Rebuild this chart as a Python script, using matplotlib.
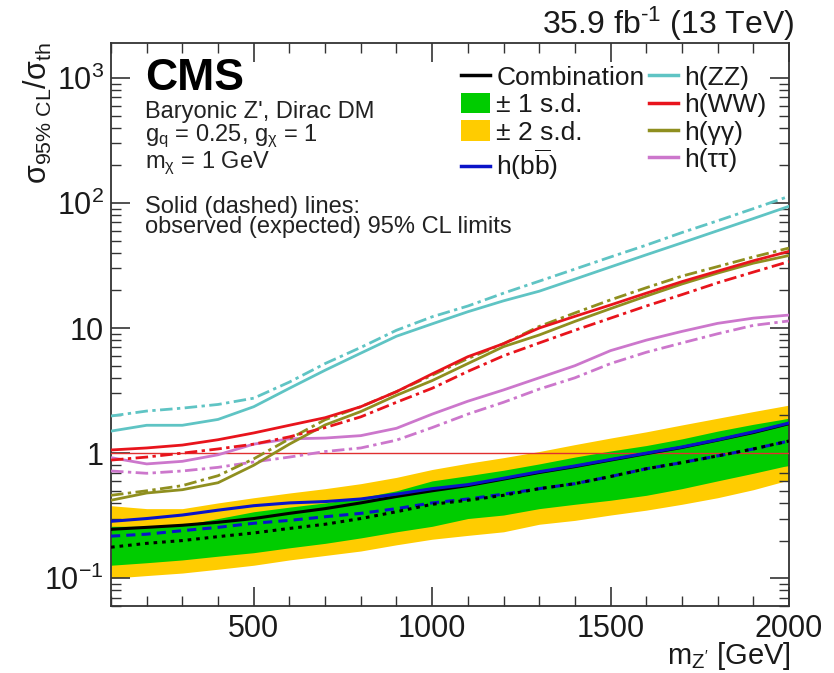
import matplotlib
matplotlib.use("Agg")
import matplotlib.pyplot as plt
from matplotlib.lines import Line2D
from matplotlib.patches import Patch
from matplotlib.ticker import FixedLocator, FixedFormatter, MultipleLocator, NullFormatter, LogLocator

plt.rcParams['font.family'] = ['Liberation Sans', 'DejaVu Sans']
plt.rcParams['mathtext.fontset'] = 'custom'
plt.rcParams['mathtext.rm'] = 'Liberation Sans'
plt.rcParams['mathtext.it'] = 'Liberation Sans'
plt.rcParams['mathtext.bf'] = 'Liberation Sans:bold'

# ---------------- data ----------------
mass = [100, 200, 300, 400, 500, 600, 700, 800, 900, 1000,
        1100, 1200, 1300, 1400, 1500, 1600, 1700, 1800, 1900, 2000]

band2_lo = [0.10, 0.105, 0.11, 0.118, 0.127, 0.14, 0.152, 0.165, 0.185, 0.205,
            0.22, 0.235, 0.27, 0.29, 0.32, 0.35, 0.39, 0.44, 0.51, 0.61]
band1_lo = [0.127, 0.133, 0.14, 0.15, 0.16, 0.175, 0.19, 0.21, 0.235, 0.26,
            0.30, 0.32, 0.36, 0.39, 0.42, 0.46, 0.52, 0.60, 0.69, 0.80]
band1_hi = [0.26, 0.26, 0.265, 0.30, 0.34, 0.37, 0.40, 0.44, 0.50, 0.60,
            0.66, 0.73, 0.82, 0.93, 1.04, 1.15, 1.30, 1.50, 1.70, 1.90]
band2_hi = [0.38, 0.36, 0.36, 0.40, 0.44, 0.48, 0.52, 0.57, 0.64, 0.74,
            0.83, 0.92, 1.03, 1.17, 1.32, 1.48, 1.68, 1.90, 2.15, 2.42]

comb_exp = [0.177, 0.19, 0.20, 0.215, 0.23, 0.25, 0.27, 0.30, 0.34, 0.39,
            0.42, 0.46, 0.52, 0.57, 0.65, 0.75, 0.84, 0.95, 1.08, 1.25]
comb_obs = [0.246, 0.255, 0.265, 0.28, 0.30, 0.33, 0.36, 0.40, 0.45, 0.50,
            0.55, 0.62, 0.70, 0.78, 0.88, 0.99, 1.11, 1.27, 1.46, 1.72]

bb_exp = [0.217, 0.225, 0.24, 0.255, 0.275, 0.29, 0.31, 0.33, 0.36, 0.40,
          0.43, 0.47, 0.52, 0.57, 0.65, 0.75, 0.84, 0.95, 1.08, 1.25]
bb_obs = [0.285, 0.30, 0.32, 0.35, 0.38, 0.40, 0.41, 0.43, 0.47, 0.52,
          0.56, 0.63, 0.71, 0.79, 0.89, 1.00, 1.12, 1.28, 1.48, 1.74]

zz_obs = [1.5, 1.67, 1.67, 1.86, 2.35, 3.3, 4.6, 6.3, 8.6, 10.8,
          13.5, 16.5, 19.7, 24.6, 30.8, 38.5, 48, 60, 75, 94]
zz_exp = [1.98, 2.17, 2.29, 2.45, 2.75, 3.7, 5.2, 7.0, 9.6, 12.3,
          15, 19, 23.7, 29.6, 37, 46, 58, 72, 90, 113]

ww_obs = [1.06, 1.10, 1.16, 1.28, 1.45, 1.67, 1.92, 2.35, 3.1, 4.3,
          5.9, 7.5, 10.0, 12.4, 15.3, 19.0, 23.5, 28.5, 34.5, 41]
ww_exp = [0.88, 0.93, 1.0, 1.08, 1.18, 1.35, 1.6, 1.95, 2.55, 3.3,
          4.5, 6.0, 7.6, 9.6, 12.0, 15.0, 18.5, 23.0, 28, 34]

gg_obs = [0.42, 0.48, 0.51, 0.58, 0.80, 1.18, 1.68, 2.15, 2.9, 3.8,
          5.2, 7.1, 8.8, 11.3, 14.3, 18, 22.5, 27.5, 33, 38]
gg_exp = [0.46, 0.50, 0.55, 0.66, 0.90, 1.3, 1.85, 2.35, 3.1, 4.2,
          5.7, 7.5, 10.3, 13.2, 16.8, 21, 26, 31, 37, 43.6]

tt_obs = [0.92, 0.82, 0.86, 0.97, 1.18, 1.30, 1.32, 1.38, 1.58, 2.05,
          2.6, 3.2, 4.0, 5.0, 6.6, 8.0, 9.4, 10.9, 12.0, 12.7]
tt_exp = [0.72, 0.69, 0.72, 0.77, 0.85, 0.93, 1.03, 1.1, 1.27, 1.6,
          2.05, 2.55, 3.25, 4.0, 5.2, 6.4, 7.6, 9.0, 10.5, 11.4]

legend_left = ["Combination", "± 1 s.d.", "± 2 s.d.", r"h(b$\overline{\rm b}$)"]
legend_right = ["h(ZZ)", "h(WW)", "h(γγ)", "h(ττ)"]

y_ticks = [0.1, 1, 10, 100, 1000]
y_ticklabels = [r'$10^{-1}$', '1', '10', r'$10^{2}$', r'$10^{3}$']
x_ticks = [500, 1000, 1500, 2000]

# ---------------- style ----------------
C_GREEN = '#00cc00'
C_YELLOW = '#ffcc00'
C_BLUE = '#0a14c8'
C_CYAN = '#5fc4c4'
C_RED = '#e8141c'
C_OLIVE = '#8f8f1f'
C_PURPLE = '#cc77cc'
DASHDOT = (0, (4.5, 1.6, 1.2, 1.6))

fig = plt.figure(figsize=(8.34, 6.73), dpi=100)
ax = fig.add_axes([0.1331, 0.0996, 0.8129, 0.8365])

ax.fill_between(mass, band2_lo, band2_hi, color=C_YELLOW, lw=0, zorder=1)
ax.fill_between(mass, band1_lo, band1_hi, color=C_GREEN, lw=0, zorder=2)
ax.axhline(1.0, color='#e03030', lw=1.0, zorder=3)

lw_o = 2.0
lw_e = 2.0
ax.plot(mass, zz_exp, color=C_CYAN, lw=lw_e, ls=DASHDOT, zorder=4)
ax.plot(mass, zz_obs, color=C_CYAN, lw=lw_o, zorder=4)
ax.plot(mass, tt_exp, color=C_PURPLE, lw=lw_e, ls=DASHDOT, zorder=4)
ax.plot(mass, tt_obs, color=C_PURPLE, lw=lw_o, zorder=4)
ax.plot(mass, gg_exp, color=C_OLIVE, lw=lw_e, ls=DASHDOT, zorder=4)
ax.plot(mass, gg_obs, color=C_OLIVE, lw=lw_o, zorder=4)
ax.plot(mass, ww_exp, color=C_RED, lw=lw_e, ls=DASHDOT, zorder=5)
ax.plot(mass, ww_obs, color=C_RED, lw=lw_o, zorder=5)
ax.plot(mass, bb_exp, color=C_BLUE, lw=2.2, ls=(0, (3.0, 2.0)), zorder=5)
ax.plot(mass, comb_exp, color='black', lw=2.2, ls=(0, (1.2, 1.6)), zorder=6)
ax.plot(mass, comb_obs, color='black', lw=2.2, zorder=6)
ax.plot(mass, bb_obs, color=C_BLUE, lw=2.2, zorder=6)

ax.set_xlim(100, 2000)
ax.set_yscale('log')
ax.set_ylim(0.06, 1900)

ax.xaxis.set_major_locator(FixedLocator(x_ticks))
ax.xaxis.set_minor_locator(MultipleLocator(100))
ax.yaxis.set_major_locator(FixedLocator(y_ticks))
ax.yaxis.set_major_formatter(FixedFormatter(y_ticklabels))
ax.yaxis.set_minor_locator(LogLocator(base=10, subs=range(2, 10), numticks=20))
ax.yaxis.set_minor_formatter(NullFormatter())

ax.tick_params(which='both', direction='in', top=True, right=True, labelsize=22, color='#333333',
               labelcolor='#1a1a1a')
ax.tick_params(which='major', length=14, width=1.2)
ax.tick_params(which='minor', length=7, width=1.0)
ax.tick_params(axis='x', pad=6)
ax.tick_params(axis='y', pad=5)
for s in ax.spines.values():
    s.set_linewidth(1.3)
    s.set_color('#333333')

fig.text(0.948, 1 - 664 / 673, r"m$_{\rm Z'}$ [GeV]", fontsize=21, ha='right', va='baseline', color='#1a1a1a')
fig.text(0.046, 0.937, r"σ$_{\rm 95\%\ CL}$/σ$_{\rm th}$", rotation=90, ha='center', va='top',
         fontsize=22, color='#1a1a1a')

fig.text(0.953, 1 - 34 / 673, "35.9 fb$^{\\rm \u20101}$ (13 TeV)", ha='right', va='baseline',
         fontsize=23, color='#1a1a1a')

tx = 0.174
fig.text(tx, 1 - 90 / 673, "CMS", fontsize=32, fontweight='bold', ha='left', va='baseline')
fig.text(tx, 1 - 118 / 673, "Baryonic Z', Dirac DM", fontsize=17, ha='left', va='baseline', color='#222222')
fig.text(tx, 1 - 141 / 673, r"g$_{\rm q}$ = 0.25, g$_{\rm χ}$ = 1", fontsize=17, ha='left', va='baseline', color='#222222')
fig.text(tx, 1 - 168 / 673, r"m$_{\rm χ}$ = 1 GeV", fontsize=17, ha='left', va='baseline', color='#222222')
fig.text(tx, 1 - 213 / 673, "Solid (dashed) lines:", fontsize=17, ha='left', va='baseline', color='#222222')
fig.text(tx, 1 - 233 / 673, "observed (expected) 95% CL limits", fontsize=17, ha='left', va='baseline', color='#222222')

handles = [
    Line2D([], [], color='black', lw=2.5),
    Patch(facecolor=C_GREEN, edgecolor='none'),
    Patch(facecolor=C_YELLOW, edgecolor='none'),
    Line2D([], [], color=C_BLUE, lw=2.5),
    Line2D([], [], color=C_CYAN, lw=2.5),
    Line2D([], [], color=C_RED, lw=2.5),
    Line2D([], [], color=C_OLIVE, lw=2.5),
    Line2D([], [], color=C_PURPLE, lw=2.5),
]
leg = ax.legend(handles, legend_left + legend_right, ncol=2, loc='upper left',
                bbox_to_anchor=(0.516, 0.96), frameon=False, fontsize=19,
                handlelength=1.1, handleheight=0.8, handletextpad=0.25,
                columnspacing=0.15, labelspacing=0.12, borderaxespad=0.0, borderpad=0.0)
for t in leg.get_texts():
    t.set_color('#1a1a1a')

fig.savefig('out.png', dpi=100)
